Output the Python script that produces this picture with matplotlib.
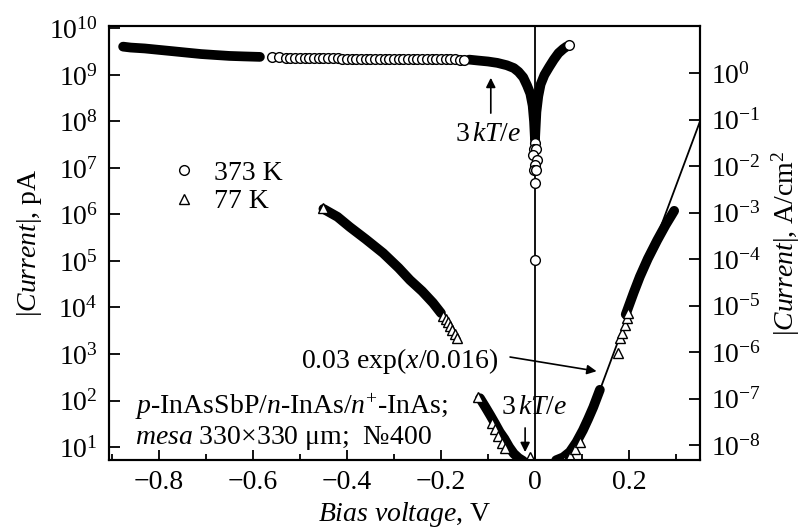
import numpy as np
import matplotlib
matplotlib.use('Agg')
import matplotlib.pyplot as plt
from matplotlib.ticker import FixedLocator, FixedFormatter, NullLocator, LogFormatterMathtext

plt.rcParams['font.family'] = ['Liberation Serif', 'DejaVu Serif']
plt.rcParams['mathtext.fontset'] = 'custom'
plt.rcParams['mathtext.rm'] = 'Liberation Serif'
plt.rcParams['mathtext.it'] = 'Liberation Serif:italic'
plt.rcParams['mathtext.bf'] = 'Liberation Serif:bold'

# ---- data (current in pA) ----
# 373 K, dense part drawn as a solid band
v373_band_rev = [-0.876, -0.86, -0.83, -0.80, -0.77, -0.74, -0.71, -0.68, -0.65, -0.62, -0.585]
i373_band_rev = [4.07e9, 3.89e9, 3.72e9, 3.47e9, 3.24e9, 3.02e9, 2.82e9, 2.69e9, 2.57e9, 2.51e9, 2.45e9]
# 373 K, sparse part (single circles visible)
v373_open = [-0.56, -0.545, -0.53, -0.52, -0.51, -0.50, -0.49, -0.48, -0.47, -0.46, -0.45,
             -0.44, -0.43, -0.42, -0.41, -0.40, -0.39, -0.38, -0.37, -0.36, -0.35, -0.34,
             -0.33, -0.32, -0.31, -0.30, -0.29, -0.28, -0.27, -0.26, -0.25, -0.24, -0.23,
             -0.22, -0.21, -0.20, -0.19, -0.18, -0.17, -0.16, -0.15]
i373_open = [2.40e9, 2.38e9, 2.37e9, 2.36e9, 2.35e9, 2.34e9, 2.33e9, 2.32e9, 2.31e9, 2.30e9, 2.29e9,
             2.28e9, 2.27e9, 2.27e9, 2.26e9, 2.25e9, 2.25e9, 2.24e9, 2.23e9, 2.23e9, 2.22e9, 2.22e9,
             2.21e9, 2.21e9, 2.20e9, 2.20e9, 2.20e9, 2.19e9, 2.19e9, 2.19e9, 2.18e9, 2.18e9, 2.18e9,
             2.17e9, 2.17e9, 2.17e9, 2.16e9, 2.16e9, 2.16e9, 2.15e9, 2.15e9]
# 373 K, near zero bias
v373_band_dip = [-0.14, -0.12, -0.10, -0.08, -0.06, -0.045, -0.035, -0.025, -0.017, -0.01, -0.005, -0.002,
                 0.0, 0.003, 0.007, 0.012, 0.02, 0.03, 0.04, 0.05, 0.06, 0.067]
i373_band_dip = [2.14e9, 2.04e9, 1.95e9, 1.82e9, 1.62e9, 1.41e9, 1.17e9, 8.9e8, 6.0e8, 4.0e8, 2.2e8, 1.0e8,
                 4.0e7, 1.6e8, 3.5e8, 6.3e8, 1.0e9, 1.48e9, 2.14e9, 2.95e9, 3.63e9, 4.07e9]
v373_zero = [0.0, -0.003, 0.003, -0.004, 0.004, 0.0, -0.002, 0.002, 0.0, 0.0]
i373_zero = [3.5e7, 2.5e7, 2.5e7, 1.9e7, 1.5e7, 1.15e7, 9.1e6, 9.1e6, 4.8e6, 1.05e5]
v373_end = [0.072]
i373_end = [4.45e9]

# 77 K
v77_band_rev = [-0.45, -0.42, -0.394, -0.36, -0.323, -0.29, -0.266, -0.24, -0.217, -0.20]
i77_band_rev = [1.32e6, 8.9e5, 5.4e5, 2.95e5, 1.48e5, 7.1e4, 3.9e4, 2.24e4, 1.26e4, 7.6e3]
v77_open_rev = [-0.451, -0.195, -0.19, -0.185, -0.18, -0.176, -0.171, -0.166]
i77_open_rev = [1.38e6, 6.6e3, 5.6e3, 4.8e3, 4.0e3, 3.3e3, 2.7e3, 2.2e3]
v77_band_low = [-0.117, -0.105, -0.095, -0.085, -0.075, -0.065, -0.055, -0.045, -0.035, -0.025,
                0.045, 0.06, 0.074, 0.088, 0.102, 0.113, 0.124, 0.138]
i77_band_low = [112, 71, 48, 32, 21, 15, 10, 7.2, 5.8, 5.0,
                5.2, 6.0, 7.8, 12.6, 23, 40, 72, 170]
v77_open_low = [-0.121, -0.092, -0.085, -0.078, -0.071, -0.064, -0.011,
                0.062, 0.075, 0.085, 0.095]
i77_open_low = [120, 33, 24, 17, 12.5, 9.5, 6.0,
                5.0, 6.5, 9.0, 13.0]
v77_open_fwd = [0.177, 0.181, 0.185, 0.191, 0.196, 0.198]
i77_open_fwd = [1.05e3, 2.2e3, 2.8e3, 4.2e3, 5.9e3, 7.6e3]
v77_band_fwd = [0.193, 0.21, 0.223, 0.24, 0.26, 0.278, 0.29, 0.296]
i77_band_fwd = [7.1e3, 2.1e4, 4.6e4, 1.12e5, 2.8e5, 6.0e5, 9.5e5, 1.2e6]

# fit 0.03 exp(x/0.016), straight on a log axis
fit_a, fit_b = 0.03, 0.016
fit_v = np.array([0.11, 0.36])
fit_i = fit_a * np.exp(fit_v / fit_b)

x_ticks = [-0.8, -0.6, -0.4, -0.2, 0.0, 0.2]
x_labels = ['\u22120.8', '\u22120.6', '\u22120.4', '\u22120.2', '0', '0.2']
area_cm2 = (330e-4) ** 2
fs = 20

fig = plt.figure(figsize=(8.05, 5.32), dpi=100)
ax = fig.add_axes([0.1354, 0.1353, 0.7342, 0.8158])
ax.set_yscale('log')
ax.set_xlim(-0.906, 0.351)
ax.set_ylim(5.25, 1.13e10)

band = dict(color='k', lw=7, solid_capstyle='round', solid_joinstyle='round', zorder=2)
circ = dict(ls='none', marker='o', ms=7, mfc='white', mec='k', mew=1.0, zorder=3)
tri = dict(ls='none', marker='^', ms=7.5, mfc='white', mec='k', mew=1.0, zorder=3)

ax.axvline(0, color='k', lw=1.3, zorder=1)
ax.plot(fit_v, fit_i, color='k', lw=1.3, zorder=1)

ax.plot(v373_band_rev, i373_band_rev, **band)
ax.plot(v373_band_dip, i373_band_dip, **band)
ax.plot(v373_open, i373_open, label='373 K', **circ)
ax.plot(v373_zero, i373_zero, **circ)
ax.plot(v373_end, i373_end, **circ)

ax.plot(v77_band_rev, i77_band_rev, **band)
ax.plot(v77_band_low[:10], i77_band_low[:10], **band)
ax.plot(v77_band_low[10:], i77_band_low[10:], **band)
ax.plot(v77_band_fwd, i77_band_fwd, **band)
ax.plot(v77_open_rev, i77_open_rev, label='77 K', **tri)
ax.plot(v77_open_low, i77_open_low, **tri)
ax.plot(v77_open_fwd, i77_open_fwd, **tri)

# axes styling
for s in ax.spines.values():
    s.set_linewidth(1.5)
ax.xaxis.set_major_locator(FixedLocator(x_ticks))
ax.xaxis.set_major_formatter(FixedFormatter(x_labels))
ax.xaxis.set_minor_locator(FixedLocator(np.round(np.arange(-0.9, 0.35, 0.1), 2)))
ax.yaxis.set_major_locator(FixedLocator(10.0 ** np.arange(1, 11)))
ax.yaxis.set_major_formatter(LogFormatterMathtext())
ax.yaxis.set_minor_locator(NullLocator())
ax.tick_params(which='both', direction='in', top=False, right=False, width=1.3, labelsize=fs)
ax.tick_params(axis='x', which='major', length=7, pad=7)
ax.tick_params(axis='x', which='minor', length=4)
ax.tick_params(axis='y', which='major', length=8, pad=8)

ax2 = ax.twinx()
ax2.set_yscale('log')
lo, hi = ax.get_ylim()
ax2.set_ylim(lo * 1e-12 / area_cm2, hi * 1e-12 / area_cm2)
ax2.yaxis.set_major_locator(FixedLocator(10.0 ** np.arange(-8, 1)))
ax2.yaxis.set_major_formatter(LogFormatterMathtext())
ax2.yaxis.set_minor_locator(NullLocator())
ax2.tick_params(which='both', direction='in', length=8, width=1.3, pad=8, labelsize=fs)
for s in ax2.spines.values():
    s.set_linewidth(1.5)

ax.set_xlabel(r'$\mathit{Bias\ voltage}$, V', fontsize=fs, labelpad=4)
ax.set_ylabel(r'$|\mathit{Current}|$, pA', fontsize=fs, labelpad=4)
ax2.set_ylabel(r'$|\mathit{Current}|$, A/cm$^2$', fontsize=fs, labelpad=6)

# annotations
arr = dict(arrowstyle='-|>', color='k', lw=1.2, mutation_scale=14, shrinkA=0, shrinkB=0)
ax.annotate('', xy=(-0.094, 10 ** 8.94), xytext=(-0.094, 10 ** 8.18), arrowprops=arr)
ax.text(-0.10, 10 ** 7.72, r'3$\,kT/e$', fontsize=fs, ha='center', va='center')
ax.annotate('', xy=(-0.021, 10 ** 0.89), xytext=(-0.021, 10 ** 1.41), arrowprops=arr)
ax.text(-0.002, 10 ** 1.86, r'3$\,kT/e$', fontsize=fs, ha='center', va='center')
ax.annotate('', xy=(0.131, 10 ** 2.63), xytext=(-0.053, 10 ** 2.935), arrowprops=arr)
ax.text(-0.287, 10 ** 2.85, r'0.03 exp($x$/0.016)', fontsize=fs, ha='center', va='center')

ax.text(-0.851, 10 ** 1.86, r'$p$-InAsSbP/$n$-InAs/$n^{+}$-InAs;', fontsize=fs, ha='left', va='center')
ax.text(-0.851, 10 ** 1.21, '$mesa$ 330\u00d7330 \u03bcm;  \u2116400', fontsize=fs, ha='left', va='center')

ax.legend(loc='upper left', bbox_to_anchor=(0.105, 0.69), frameon=False, fontsize=fs,
          handlelength=0.9, handletextpad=0.65, labelspacing=0.1, borderpad=0, borderaxespad=0)

fig.savefig('out.png', dpi=100)
